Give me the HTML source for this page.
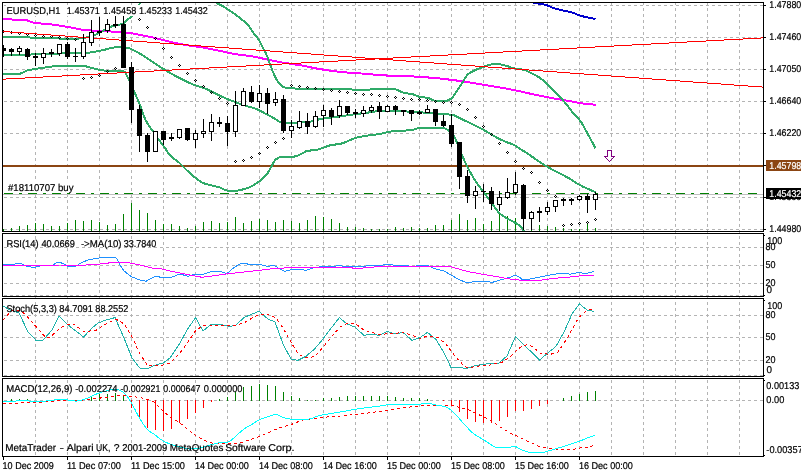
<!DOCTYPE html>
<html><head><meta charset="utf-8"><title>EURUSD,H1</title>
<style>html,body{margin:0;padding:0;background:#fff}svg text{white-space:pre}</style></head>
<body>
<svg width="801" height="473" viewBox="0 0 801 473" style="display:block">
<defs>
<clipPath id="cm"><rect x="3" y="3" width="760" height="228"/></clipPath>
<clipPath id="cr"><rect x="3" y="234" width="760" height="62"/></clipPath>
<clipPath id="cs"><rect x="3" y="299" width="760" height="77"/></clipPath>
<clipPath id="cd"><rect x="3" y="379" width="760" height="77"/></clipPath>
</defs>
<rect width="801" height="473" fill="#fff"/>
<g shape-rendering="crispEdges" stroke="#b4b4b4" stroke-width="1" stroke-dasharray="3 3" fill="none">
<line x1="35.5" y1="2" x2="35.5" y2="456"/>
<line x1="67.5" y1="2" x2="67.5" y2="456"/>
<line x1="99.5" y1="2" x2="99.5" y2="456"/>
<line x1="131.5" y1="2" x2="131.5" y2="456"/>
<line x1="163.5" y1="2" x2="163.5" y2="456"/>
<line x1="195.5" y1="2" x2="195.5" y2="456"/>
<line x1="227.5" y1="2" x2="227.5" y2="456"/>
<line x1="259.5" y1="2" x2="259.5" y2="456"/>
<line x1="291.5" y1="2" x2="291.5" y2="456"/>
<line x1="323.5" y1="2" x2="323.5" y2="456"/>
<line x1="355.5" y1="2" x2="355.5" y2="456"/>
<line x1="387.5" y1="2" x2="387.5" y2="456"/>
<line x1="419.5" y1="2" x2="419.5" y2="456"/>
<line x1="451.5" y1="2" x2="451.5" y2="456"/>
<line x1="483.5" y1="2" x2="483.5" y2="456"/>
<line x1="515.5" y1="2" x2="515.5" y2="456"/>
<line x1="547.5" y1="2" x2="547.5" y2="456"/>
<line x1="579.5" y1="2" x2="579.5" y2="456"/>
<line x1="611.5" y1="2" x2="611.5" y2="456"/>
<line x1="643.5" y1="2" x2="643.5" y2="456"/>
<line x1="675.5" y1="2" x2="675.5" y2="456"/>
<line x1="707.5" y1="2" x2="707.5" y2="456"/>
<line x1="739.5" y1="2" x2="739.5" y2="456"/>
<line x1="4" y1="5.5" x2="763" y2="5.5"/>
<line x1="4" y1="37.5" x2="763" y2="37.5"/>
<line x1="4" y1="69.5" x2="763" y2="69.5"/>
<line x1="4" y1="101.5" x2="763" y2="101.5"/>
<line x1="4" y1="133.5" x2="763" y2="133.5"/>
<line x1="4" y1="165.5" x2="763" y2="165.5"/>
<line x1="4" y1="197.5" x2="763" y2="197.5"/>
<line x1="4" y1="229.5" x2="763" y2="229.5"/>
<line x1="4" y1="247.5" x2="763" y2="247.5"/>
<line x1="4" y1="265.5" x2="763" y2="265.5"/>
<line x1="4" y1="283.5" x2="763" y2="283.5"/>
<line x1="4" y1="295.5" x2="763" y2="295.5"/>
<line x1="4" y1="315.5" x2="763" y2="315.5"/>
<line x1="4" y1="337.5" x2="763" y2="337.5"/>
<line x1="4" y1="360.5" x2="763" y2="360.5"/>
<line x1="4" y1="375.5" x2="763" y2="375.5"/>
<line x1="4" y1="400.5" x2="763" y2="400.5"/>
</g>
<g clip-path="url(#cm)">
<g shape-rendering="crispEdges" fill="#008000">
<rect x="3" y="229" width="1" height="2"/>
<rect x="11" y="228" width="1" height="3"/>
<rect x="19" y="226" width="1" height="5"/>
<rect x="27" y="225" width="1" height="6"/>
<rect x="35" y="223" width="1" height="8"/>
<rect x="43" y="224" width="1" height="7"/>
<rect x="51" y="226" width="1" height="5"/>
<rect x="59" y="226" width="1" height="5"/>
<rect x="67" y="223" width="1" height="8"/>
<rect x="75" y="220" width="1" height="11"/>
<rect x="83" y="221" width="1" height="10"/>
<rect x="91" y="220" width="1" height="11"/>
<rect x="99" y="222" width="1" height="9"/>
<rect x="107" y="225" width="1" height="6"/>
<rect x="115" y="224" width="1" height="7"/>
<rect x="123" y="214" width="1" height="17"/>
<rect x="131" y="203" width="1" height="28"/>
<rect x="139" y="210" width="1" height="21"/>
<rect x="147" y="213" width="1" height="18"/>
<rect x="155" y="220" width="1" height="11"/>
<rect x="163" y="224" width="1" height="7"/>
<rect x="171" y="224" width="1" height="7"/>
<rect x="179" y="226" width="1" height="5"/>
<rect x="187" y="228" width="1" height="3"/>
<rect x="195" y="226" width="1" height="5"/>
<rect x="203" y="222" width="1" height="9"/>
<rect x="211" y="221" width="1" height="10"/>
<rect x="219" y="223" width="1" height="8"/>
<rect x="227" y="222" width="1" height="9"/>
<rect x="235" y="217" width="1" height="14"/>
<rect x="243" y="223" width="1" height="8"/>
<rect x="251" y="221" width="1" height="10"/>
<rect x="259" y="219" width="1" height="12"/>
<rect x="267" y="220" width="1" height="11"/>
<rect x="275" y="222" width="1" height="9"/>
<rect x="283" y="220" width="1" height="11"/>
<rect x="291" y="221" width="1" height="10"/>
<rect x="299" y="223" width="1" height="8"/>
<rect x="307" y="220" width="1" height="11"/>
<rect x="315" y="216" width="1" height="15"/>
<rect x="323" y="217" width="1" height="14"/>
<rect x="331" y="219" width="1" height="12"/>
<rect x="339" y="223" width="1" height="8"/>
<rect x="347" y="227" width="1" height="4"/>
<rect x="355" y="227" width="1" height="4"/>
<rect x="363" y="228" width="1" height="3"/>
<rect x="371" y="229" width="1" height="2"/>
<rect x="379" y="229" width="1" height="2"/>
<rect x="387" y="229" width="1" height="2"/>
<rect x="395" y="227" width="1" height="4"/>
<rect x="403" y="228" width="1" height="3"/>
<rect x="411" y="227" width="1" height="4"/>
<rect x="419" y="228" width="1" height="3"/>
<rect x="427" y="228" width="1" height="3"/>
<rect x="435" y="225" width="1" height="6"/>
<rect x="443" y="225" width="1" height="6"/>
<rect x="451" y="220" width="1" height="11"/>
<rect x="459" y="214" width="1" height="17"/>
<rect x="467" y="220" width="1" height="11"/>
<rect x="475" y="218" width="1" height="13"/>
<rect x="483" y="224" width="1" height="7"/>
<rect x="491" y="221" width="1" height="10"/>
<rect x="499" y="214" width="1" height="17"/>
<rect x="507" y="216" width="1" height="15"/>
<rect x="515" y="218" width="1" height="13"/>
<rect x="523" y="225" width="1" height="6"/>
<rect x="531" y="226" width="1" height="5"/>
<rect x="539" y="225" width="1" height="6"/>
<rect x="547" y="226" width="1" height="5"/>
<rect x="555" y="227" width="1" height="4"/>
<rect x="563" y="228" width="1" height="3"/>
<rect x="571" y="229" width="1" height="2"/>
<rect x="579" y="229" width="1" height="2"/>
<rect x="587" y="223" width="1" height="8"/>
<rect x="595" y="228" width="1" height="3"/>
</g>
<g shape-rendering="crispEdges">
<rect x="3" y="194" width="760" height="1" fill="#c0c0c0" shape-rendering="crispEdges"/>
<line x1="4" y1="193.5" x2="763" y2="193.5" stroke="#008000" stroke-width="1" stroke-dasharray="9 6 3 6" shape-rendering="crispEdges"/>
<rect x="3" y="165" width="760" height="2" fill="#8b4513" shape-rendering="crispEdges"/>
<polyline points="3.0,19.0 5.0,19.0 7.0,19.0 9.0,19.0 11.0,19.0 13.0,20.1 15.0,20.1 17.0,20.1 19.0,20.2 21.0,20.2 23.0,20.2 25.0,20.2 27.0,20.3 29.0,21.0 31.0,21.8 33.0,22.5 35.0,22.8 37.0,23.1 39.0,23.3 41.0,23.5 43.0,23.6 45.0,23.8 47.1,24.0 49.1,24.2 51.1,24.4 53.1,24.7 55.1,25.0 57.1,25.3 59.1,25.5 61.1,25.9 63.1,26.2 65.1,26.5 67.1,26.8 69.1,27.2 71.1,27.6 73.1,28.0 75.1,28.4 77.1,28.8 79.1,29.2 81.1,29.5 83.1,29.7 85.1,29.9 87.1,30.1 89.1,30.3 91.1,30.4 93.1,30.6 95.1,30.7 97.1,30.8 99.1,30.9 101.1,31.1 103.1,31.2 105.1,31.3 107.1,31.3 109.1,31.4 111.1,31.5 113.1,31.6 115.1,31.7 117.1,31.8 119.1,31.9 121.1,32.1 123.1,32.2 125.1,32.4 127.1,32.7 129.1,32.9 131.2,33.3 133.2,33.6 135.2,34.0 137.2,34.4 139.2,34.7 141.2,35.1 143.2,35.5 145.2,35.9 147.2,36.3 149.2,36.7 151.2,37.1 153.2,37.5 155.2,38.0 157.2,38.5 159.2,39.0 161.2,39.5 163.2,40.1 165.2,40.6 167.2,41.1 169.2,41.6 171.2,42.1 173.2,42.5 175.2,42.9 177.2,43.3 179.2,43.8 181.2,44.1 183.2,44.5 185.2,44.9 187.2,45.2 189.2,45.6 191.2,45.9 193.2,46.2 195.2,46.4 197.2,46.7 199.2,47.0 201.2,47.3 203.2,47.6 205.2,48.0 207.2,48.4 209.2,48.7 211.2,49.1 213.2,49.5 215.3,49.9 217.3,50.4 219.3,50.8 221.3,51.2 223.3,51.6 225.3,52.0 227.3,52.5 229.3,52.9 231.3,53.3 233.3,53.8 235.3,54.1 237.3,54.4 239.3,54.7 241.3,55.0 243.3,55.2 245.3,55.4 247.3,55.6 249.3,55.9 251.3,56.2 253.3,56.6 255.3,57.0 257.3,57.4 259.3,57.8 261.3,58.2 263.3,58.7 265.3,59.1 267.3,59.5 269.3,59.9 271.3,60.3 273.3,60.7 275.3,61.2 277.3,61.6 279.3,61.9 281.3,62.3 283.3,62.7 285.3,63.0 287.3,63.3 289.3,63.6 291.3,63.9 293.3,64.2 295.3,64.5 297.3,64.8 299.4,65.1 301.4,65.4 303.4,65.8 305.4,66.2 307.4,66.7 309.4,67.1 311.4,67.5 313.4,67.9 315.4,68.3 317.4,68.7 319.4,69.0 321.4,69.3 323.4,69.7 325.4,70.0 327.4,70.3 329.4,70.6 331.4,70.8 333.4,71.1 335.4,71.3 337.4,71.5 339.4,71.8 341.4,72.0 343.4,72.2 345.4,72.4 347.4,72.5 349.4,72.7 351.4,72.9 353.4,73.0 355.4,73.2 357.4,73.3 359.4,73.4 361.4,73.5 363.4,73.6 365.4,73.8 367.4,73.9 369.4,74.1 371.4,74.3 373.4,74.5 375.4,74.7 377.4,74.9 379.4,75.1 381.4,75.2 383.4,75.3 385.5,75.4 387.5,75.6 389.5,75.7 391.5,75.8 393.5,75.9 395.5,76.0 397.5,76.0 399.5,76.1 401.5,76.2 403.5,76.2 405.5,76.3 407.5,76.3 409.5,76.4 411.5,76.4 413.5,76.5 415.5,76.6 417.5,76.7 419.5,76.8 421.5,77.0 423.5,77.1 425.5,77.2 427.5,77.4 429.5,77.6 431.5,77.7 433.5,77.9 435.5,78.1 437.5,78.3 439.5,78.5 441.5,78.7 443.5,78.9 445.5,79.1 447.5,79.4 449.5,79.6 451.5,79.8 453.5,80.1 455.5,80.4 457.5,80.6 459.5,80.9 461.5,81.2 463.5,81.5 465.5,81.8 467.5,82.1 469.6,82.4 471.6,82.8 473.6,83.1 475.6,83.5 477.6,83.8 479.6,84.2 481.6,84.5 483.6,84.8 485.6,85.1 487.6,85.5 489.6,85.8 491.6,86.1 493.6,86.4 495.6,86.8 497.6,87.1 499.6,87.4 501.6,87.8 503.6,88.1 505.6,88.5 507.6,88.8 509.6,89.2 511.6,89.6 513.6,90.0 515.6,90.4 517.6,90.8 519.6,91.2 521.6,91.7 523.6,92.2 525.6,92.6 527.6,93.1 529.6,93.5 531.6,94.0 533.6,94.4 535.6,94.8 537.6,95.3 539.6,95.7 541.6,96.1 543.6,96.5 545.6,96.9 547.6,97.3 549.6,97.6 551.6,98.0 553.7,98.4 555.7,98.7 557.7,99.0 559.7,99.4 561.7,99.7 563.7,100.0 565.7,100.4 567.7,100.7 569.7,101.1 571.7,101.5 573.7,101.9 575.7,102.3 577.7,102.7 579.7,103.0 581.7,103.3 583.7,103.6 585.7,103.8 587.7,104.1 589.7,104.3 591.7,104.4 593.7,104.6 595.7,104.7" fill="none" stroke="#ff00ff" stroke-width="2" stroke-linejoin="round" />
<polyline points="525.0,-1.0 527.0,-0.0 529.0,0.9 531.0,1.7 533.1,2.4 535.1,3.0 537.1,3.4 539.1,3.7 541.1,4.0 543.1,4.3 545.1,4.7 547.2,5.4 549.2,6.2 551.2,7.1 553.2,7.9 555.2,8.5 557.2,9.1 559.2,9.6 561.3,10.0 563.3,10.5 565.3,10.9 567.3,11.3 569.3,11.7 571.3,12.2 573.3,12.8 575.4,13.6 577.4,14.6 579.4,15.4 581.4,16.0 583.4,16.5 585.4,17.0 587.4,17.4 589.5,17.9 591.5,18.3 593.5,18.6 595.5,19.0" fill="none" stroke="#0000cd" stroke-width="2" stroke-linejoin="round" />
<polyline points="3.0,36.8 5.0,36.8 7.0,36.8 9.0,36.8 11.0,36.8 13.0,36.8 15.0,36.8 17.0,36.8 19.0,36.8 21.0,36.8 23.0,36.9 25.0,36.9 27.0,36.9 29.0,37.1 31.0,37.8 33.0,37.8 35.0,37.9 37.0,37.9 39.0,37.9 41.0,37.9 43.0,37.9 45.0,37.9 47.0,37.9 49.0,37.9 51.0,37.9 53.0,38.0 55.0,38.0 57.0,38.1 59.0,38.5 61.0,38.9 63.0,39.0 65.0,39.0 67.0,39.1 69.0,39.1 71.0,39.1 73.0,39.1 75.0,39.1 77.0,39.1 79.1,38.5 81.1,38.0 83.1,37.8 85.1,37.6 87.1,37.4 89.1,37.0 91.1,36.5 93.1,35.8 95.1,34.9 97.1,34.0 99.1,33.1 101.1,32.0 103.1,30.8 105.1,29.5 107.1,28.4 109.1,27.5 111.1,26.7 113.1,26.0 115.1,25.5 117.1,25.0 119.1,24.7 121.1,24.4 123.1,24.0 125.1,22.2 127.1,19.9 129.1,18.4 131.1,16.9 133.1,14.6 135.1,11.5 137.1,8.2 139.1,4.6 141.1,1.0 143.1,-2.9 145.1,-6.6 147.1,-9.7 149.1,-12.7 151.1,-15.6 153.1,-18.3 155.1,-20.7 157.1,-22.8 159.1,-24.4 161.1,-25.6 163.1,-26.7 165.1,-27.7 167.1,-28.7 169.1,-29.6 171.1,-30.3 173.1,-31.0 175.1,-31.5 177.1,-31.8 179.1,-32.0 181.1,-32.0 183.1,-31.7 185.1,-31.1 187.1,-30.3 189.1,-29.4 191.1,-28.2 193.1,-26.9 195.1,-25.6 197.1,-24.1 199.1,-22.6 201.1,-21.1 203.1,-19.0 205.1,-16.6 207.1,-13.8 209.1,-10.8 211.1,-7.8 213.1,-3.8 215.1,0.4 217.1,3.1 219.1,4.3 221.1,5.2 223.1,6.3 225.1,7.5 227.2,8.9 229.2,10.2 231.2,11.6 233.2,13.0 235.2,14.5 237.2,16.0 239.2,17.5 241.2,19.0 243.2,20.6 245.2,22.3 247.2,24.3 249.2,26.5 251.2,29.3 253.2,32.6 255.2,35.2 257.2,37.6 259.2,40.6 261.2,44.4 263.2,48.2 265.2,52.0 267.2,56.3 269.2,61.8 271.2,67.4 273.2,72.6 275.2,77.0 277.2,80.5 279.2,83.4 281.2,85.6 283.2,87.1 285.2,87.5 287.2,87.8 289.2,88.0 291.2,88.1 293.2,88.3 295.2,88.5 297.2,88.7 299.2,88.9 301.2,89.0 303.2,89.1 305.2,89.1 307.2,89.1 309.2,89.1 311.2,89.1 313.2,89.1 315.2,89.1 317.2,89.1 319.2,89.1 321.2,89.1 323.2,89.1 325.2,89.1 327.2,89.1 329.2,89.1 331.2,89.1 333.2,89.1 335.2,89.1 337.2,89.1 339.2,89.1 341.2,89.1 343.2,89.2 345.2,89.2 347.2,89.2 349.2,89.3 351.2,89.4 353.2,89.7 355.2,90.0 357.2,90.0 359.2,90.0 361.2,90.0 363.2,90.0 365.2,90.0 367.2,90.0 369.2,89.7 371.2,89.3 373.2,89.0 375.3,88.7 377.3,88.7 379.3,88.7 381.3,88.7 383.3,88.7 385.3,88.7 387.3,88.8 389.3,88.9 391.3,89.0 393.3,89.2 395.3,89.4 397.3,90.0 399.3,90.9 401.3,91.8 403.3,92.6 405.3,93.0 407.3,93.4 409.3,93.7 411.3,94.0 413.3,94.4 415.3,95.1 417.3,96.1 419.3,96.8 421.3,97.2 423.3,97.3 425.3,97.5 427.3,97.7 429.3,98.3 431.3,99.3 433.3,100.4 435.3,100.8 437.3,101.0 439.3,101.1 441.3,101.1 443.3,101.2 445.3,101.2 447.3,100.7 449.3,99.7 451.3,98.5 453.3,96.3 455.3,93.4 457.3,90.3 459.3,87.4 461.3,84.4 463.3,81.3 465.3,77.6 467.3,74.8 469.3,73.3 471.3,72.1 473.3,71.1 475.3,70.1 477.3,69.2 479.3,68.4 481.3,67.6 483.3,66.9 485.3,66.2 487.3,65.5 489.3,64.9 491.3,64.4 493.3,64.1 495.3,64.0 497.3,63.9 499.3,64.1 501.3,64.5 503.3,65.0 505.3,65.5 507.3,66.1 509.3,66.8 511.3,67.5 513.3,68.1 515.3,68.5 517.3,68.8 519.3,69.1 521.4,69.4 523.4,69.8 525.4,70.3 527.4,71.1 529.4,72.2 531.4,73.3 533.4,74.3 535.4,75.2 537.4,76.3 539.4,77.6 541.4,79.1 543.4,80.7 545.4,82.5 547.4,84.4 549.4,86.2 551.4,88.1 553.4,90.0 555.4,92.0 557.4,94.0 559.4,96.2 561.4,98.4 563.4,100.8 565.4,103.2 567.4,105.7 569.4,108.2 571.4,110.9 573.4,113.3 575.4,115.5 577.4,117.6 579.4,119.7 581.4,122.5 583.4,125.9 585.4,129.6 587.4,133.3 589.4,136.9 591.4,140.6 593.4,144.4 595.4,148.2" fill="none" stroke="#2faa68" stroke-width="2" stroke-linejoin="round" />
<polyline points="3.0,54.9 5.0,54.9 7.0,54.9 9.0,54.8 11.0,54.8 13.0,54.8 15.0,54.8 17.0,54.7 19.0,54.7 21.0,54.7 23.0,54.6 25.0,54.6 27.0,54.5 29.0,54.5 31.0,54.5 33.0,54.4 35.0,54.4 37.0,54.3 39.0,54.2 41.0,54.2 43.0,54.1 45.0,54.0 47.0,54.0 49.0,53.9 51.0,53.8 53.0,53.7 55.0,53.6 57.0,53.5 59.0,53.5 61.0,53.4 63.0,53.3 65.0,53.3 67.0,53.2 69.0,53.1 71.0,53.1 73.0,53.1 75.0,53.0 77.0,53.0 79.0,53.0 81.0,52.9 83.0,52.9 85.0,52.8 87.0,52.7 89.0,52.6 91.0,52.3 93.0,52.0 95.0,51.6 97.0,51.3 99.0,51.0 101.0,50.6 103.1,50.1 105.1,49.6 107.1,49.1 109.1,48.5 111.1,48.0 113.1,47.7 115.1,47.4 117.1,47.3 119.1,47.3 121.1,47.4 123.1,47.5 125.1,47.6 127.1,47.7 129.1,48.2 131.1,49.0 133.1,50.0 135.1,51.1 137.1,52.1 139.1,53.2 141.1,54.3 143.1,55.6 145.1,56.9 147.1,58.2 149.1,59.5 151.1,60.9 153.1,62.3 155.1,63.6 157.1,65.0 159.1,66.3 161.1,67.6 163.1,68.8 165.1,70.0 167.1,71.2 169.1,72.4 171.1,73.5 173.1,74.6 175.1,75.7 177.1,76.7 179.1,77.8 181.1,78.9 183.1,79.9 185.1,80.9 187.1,81.8 189.1,82.8 191.1,83.6 193.1,84.5 195.1,85.2 197.1,85.9 199.1,86.5 201.1,87.1 203.1,87.7 205.1,88.5 207.1,89.4 209.1,90.4 211.1,91.4 213.1,92.3 215.1,93.4 217.1,94.4 219.1,95.4 221.1,96.3 223.1,97.2 225.1,98.0 227.1,98.9 229.1,99.7 231.1,100.5 233.1,101.2 235.1,102.0 237.1,102.7 239.1,103.5 241.1,104.2 243.1,105.0 245.1,105.6 247.1,106.2 249.1,106.7 251.1,107.3 253.1,107.9 255.1,108.6 257.1,109.4 259.1,110.4 261.1,111.4 263.1,112.4 265.1,113.5 267.1,114.5 269.1,115.6 271.1,116.6 273.1,117.7 275.1,118.8 277.1,120.1 279.1,121.5 281.1,122.4 283.1,122.6 285.1,122.6 287.1,122.7 289.1,122.7 291.1,122.7 293.1,122.7 295.1,122.7 297.1,122.6 299.1,122.5 301.2,122.5 303.2,122.3 305.2,122.2 307.2,122.0 309.2,121.8 311.2,121.4 313.2,120.9 315.2,120.3 317.2,119.8 319.2,119.3 321.2,118.9 323.2,118.6 325.2,118.3 327.2,118.0 329.2,117.8 331.2,117.5 333.2,117.3 335.2,117.0 337.2,116.7 339.2,116.4 341.2,116.2 343.2,115.9 345.2,115.6 347.2,115.3 349.2,115.1 351.2,114.8 353.2,114.5 355.2,114.3 357.2,114.0 359.2,113.7 361.2,113.4 363.2,113.2 365.2,112.9 367.2,112.7 369.2,112.4 371.2,112.1 373.2,111.8 375.2,111.5 377.2,111.3 379.2,111.0 381.2,110.9 383.2,110.8 385.2,110.8 387.2,110.8 389.2,110.8 391.2,110.8 393.2,110.9 395.2,110.9 397.2,110.9 399.2,111.0 401.2,111.1 403.2,111.2 405.2,111.3 407.2,111.5 409.2,111.6 411.2,111.8 413.2,111.9 415.2,112.0 417.2,112.1 419.2,112.2 421.2,112.3 423.2,112.5 425.2,112.6 427.2,112.7 429.2,112.8 431.2,113.0 433.2,113.1 435.2,113.3 437.2,113.5 439.2,113.6 441.2,113.8 443.2,114.0 445.2,114.1 447.2,114.3 449.2,114.5 451.2,114.7 453.2,115.0 455.2,115.7 457.2,116.8 459.2,117.9 461.2,118.9 463.2,119.9 465.2,120.8 467.2,121.7 469.2,122.6 471.2,123.6 473.2,124.5 475.2,125.5 477.2,126.5 479.2,127.5 481.2,128.5 483.2,129.6 485.2,130.8 487.2,131.9 489.2,133.1 491.2,134.2 493.2,135.5 495.2,136.7 497.3,137.8 499.3,138.9 501.3,139.8 503.3,140.7 505.3,141.6 507.3,142.4 509.3,143.1 511.3,143.8 513.3,144.6 515.3,145.7 517.3,147.1 519.3,148.5 521.3,149.7 523.3,150.9 525.3,152.1 527.3,153.4 529.3,154.8 531.3,156.2 533.3,157.5 535.3,158.9 537.3,160.3 539.3,161.7 541.3,163.1 543.3,164.4 545.3,165.7 547.3,166.8 549.3,167.9 551.3,169.0 553.3,170.1 555.3,171.1 557.3,172.2 559.3,173.2 561.3,174.2 563.3,175.2 565.3,176.3 567.3,177.3 569.3,178.4 571.3,179.6 573.3,180.9 575.3,182.3 577.3,183.6 579.3,184.7 581.3,185.8 583.3,186.8 585.3,187.7 587.3,188.6 589.3,189.5 591.3,190.4 593.3,191.3 595.3,192.1" fill="none" stroke="#2faa68" stroke-width="2" stroke-linejoin="round" />
<polyline points="3.0,74.3 5.0,74.3 7.0,74.3 9.0,74.3 11.0,74.2 13.0,74.2 15.0,74.1 17.0,74.1 19.0,73.9 21.0,73.4 23.0,72.5 25.0,71.4 27.0,70.5 29.0,70.0 31.1,69.6 33.1,69.3 35.1,69.0 37.1,68.7 39.1,68.4 41.1,68.1 43.1,67.8 45.1,67.5 47.1,67.2 49.1,66.9 51.1,66.7 53.1,66.4 55.1,66.2 57.1,66.0 59.1,65.8 61.1,65.7 63.1,65.6 65.1,65.6 67.1,65.6 69.1,65.6 71.1,65.6 73.1,65.6 75.1,65.6 77.1,65.6 79.1,65.6 81.1,65.6 83.2,65.7 85.2,66.1 87.2,66.7 89.2,67.4 91.2,67.9 93.2,68.4 95.2,68.8 97.2,69.3 99.2,69.7 101.2,70.0 103.2,70.4 105.2,70.7 107.2,70.9 109.2,71.0 111.2,71.0 113.2,71.0 115.2,71.0 117.2,70.9 119.2,70.9 121.2,70.9 123.2,70.9 125.2,72.5 127.2,76.2 129.2,80.0 131.2,84.6 133.2,89.5 135.3,94.2 137.3,98.7 139.3,103.4 141.3,108.7 143.3,114.7 145.3,119.5 147.3,123.2 149.3,126.2 151.3,129.1 153.3,131.9 155.3,134.8 157.3,137.6 159.3,140.3 161.3,143.0 163.3,145.7 165.3,148.4 167.3,151.5 169.3,154.5 171.3,156.5 173.3,158.1 175.3,159.6 177.3,161.1 179.3,162.8 181.3,164.8 183.3,166.8 185.3,168.8 187.3,170.7 189.4,172.6 191.4,174.4 193.4,176.2 195.4,177.7 197.4,179.3 199.4,180.8 201.4,182.1 203.4,183.1 205.4,183.8 207.4,184.4 209.4,184.9 211.4,185.4 213.4,186.0 215.4,186.4 217.4,186.9 219.4,187.4 221.4,188.1 223.4,189.3 225.4,190.3 227.4,190.6 229.4,190.6 231.4,190.6 233.4,190.6 235.4,190.6 237.4,190.6 239.4,190.3 241.5,189.9 243.5,189.2 245.5,188.6 247.5,188.0 249.5,187.2 251.5,186.3 253.5,185.2 255.5,183.9 257.5,182.6 259.5,181.1 261.5,179.5 263.5,177.8 265.5,175.8 267.5,173.3 269.5,170.0 271.5,166.3 273.5,162.3 275.5,159.7 277.5,158.3 279.5,157.3 281.5,156.8 283.5,156.7 285.5,156.7 287.5,156.7 289.5,156.6 291.5,156.6 293.6,156.6 295.6,156.4 297.6,155.8 299.6,154.7 301.6,153.7 303.6,152.6 305.6,151.5 307.6,150.9 309.6,150.6 311.6,150.4 313.6,150.2 315.6,150.0 317.6,149.7 319.6,149.1 321.6,148.3 323.6,147.6 325.6,146.8 327.6,146.1 329.6,145.5 331.6,145.1 333.6,144.7 335.6,144.5 337.6,144.2 339.6,143.9 341.6,143.5 343.6,142.9 345.7,142.0 347.7,141.1 349.7,140.3 351.7,139.4 353.7,138.6 355.7,137.9 357.7,137.4 359.7,136.9 361.7,136.5 363.7,136.1 365.7,135.8 367.7,135.5 369.7,135.2 371.7,135.0 373.7,134.8 375.7,134.6 377.7,134.3 379.7,134.0 381.7,133.7 383.7,133.1 385.7,132.6 387.7,132.1 389.7,131.7 391.7,131.4 393.7,131.1 395.7,131.0 397.7,130.9 399.8,130.8 401.8,130.8 403.8,130.6 405.8,130.5 407.8,130.3 409.8,130.1 411.8,129.9 413.8,129.6 415.8,129.0 417.8,128.3 419.8,127.8 421.8,127.7 423.8,127.7 425.8,127.6 427.8,127.6 429.8,127.5 431.8,127.5 433.8,127.5 435.8,127.5 437.8,127.5 439.8,127.5 441.8,127.6 443.8,127.9 445.8,128.7 447.8,129.9 449.8,131.4 451.9,133.4 453.9,136.1 455.9,139.9 457.9,145.0 459.9,150.1 461.9,155.0 463.9,159.6 465.9,163.8 467.9,167.8 469.9,171.5 471.9,175.1 473.9,178.5 475.9,181.6 477.9,184.4 479.9,187.1 481.9,189.7 483.9,192.4 485.9,195.1 487.9,197.9 489.9,200.7 491.9,203.4 493.9,206.1 495.9,208.9 497.9,211.5 499.9,213.5 501.9,215.2 504.0,216.6 506.0,217.9 508.0,219.0 510.0,220.1 512.0,221.1 514.0,222.1 516.0,223.2 518.0,224.5 520.0,226.0 522.0,228.2 524.0,231.4 526.0,234.4 528.0,237.3 530.0,240.0" fill="none" stroke="#2faa68" stroke-width="2" stroke-linejoin="round" />
</g>
<g shape-rendering="crispEdges" fill="#000">
<path d="M3 30h1v1h1v1h-1v1h-1v-1h-1v-1h1z M3 31v1h1v-1z" fill-rule="evenodd"/>
<path d="M11 31h1v1h1v1h-1v1h-1v-1h-1v-1h1z M11 32v1h1v-1z" fill-rule="evenodd"/>
<path d="M19 32h1v1h1v1h-1v1h-1v-1h-1v-1h1z M19 33v1h1v-1z" fill-rule="evenodd"/>
<path d="M27 33h1v1h1v1h-1v1h-1v-1h-1v-1h1z M27 34v1h1v-1z" fill-rule="evenodd"/>
<path d="M35 34h1v1h1v1h-1v1h-1v-1h-1v-1h1z M35 35v1h1v-1z" fill-rule="evenodd"/>
<path d="M43 35h1v1h1v1h-1v1h-1v-1h-1v-1h1z M43 36v1h1v-1z" fill-rule="evenodd"/>
<path d="M51 35h1v1h1v1h-1v1h-1v-1h-1v-1h1z M51 36v1h1v-1z" fill-rule="evenodd"/>
<path d="M59 36h1v1h1v1h-1v1h-1v-1h-1v-1h1z M59 37v1h1v-1z" fill-rule="evenodd"/>
<path d="M67 37h1v1h1v1h-1v1h-1v-1h-1v-1h1z M67 38v1h1v-1z" fill-rule="evenodd"/>
<path d="M75 38h1v1h1v1h-1v1h-1v-1h-1v-1h1z M75 39v1h1v-1z" fill-rule="evenodd"/>
<path d="M83 77h1v1h1v1h-1v1h-1v-1h-1v-1h1z M83 78v1h1v-1z" fill-rule="evenodd"/>
<path d="M91 76h1v1h1v1h-1v1h-1v-1h-1v-1h1z M91 77v1h1v-1z" fill-rule="evenodd"/>
<path d="M99 74h1v1h1v1h-1v1h-1v-1h-1v-1h1z M99 75v1h1v-1z" fill-rule="evenodd"/>
<path d="M107 70h1v1h1v1h-1v1h-1v-1h-1v-1h1z M107 71v1h1v-1z" fill-rule="evenodd"/>
<path d="M115 67h1v1h1v1h-1v1h-1v-1h-1v-1h1z M115 68v1h1v-1z" fill-rule="evenodd"/>
<path d="M139 18h1v1h1v1h-1v1h-1v-1h-1v-1h1z M139 19v1h1v-1z" fill-rule="evenodd"/>
<path d="M147 26h1v1h1v1h-1v1h-1v-1h-1v-1h1z M147 27v1h1v-1z" fill-rule="evenodd"/>
<path d="M155 37h1v1h1v1h-1v1h-1v-1h-1v-1h1z M155 38v1h1v-1z" fill-rule="evenodd"/>
<path d="M163 47h1v1h1v1h-1v1h-1v-1h-1v-1h1z M163 48v1h1v-1z" fill-rule="evenodd"/>
<path d="M171 56h1v1h1v1h-1v1h-1v-1h-1v-1h1z M171 57v1h1v-1z" fill-rule="evenodd"/>
<path d="M179 64h1v1h1v1h-1v1h-1v-1h-1v-1h1z M179 65v1h1v-1z" fill-rule="evenodd"/>
<path d="M187 72h1v1h1v1h-1v1h-1v-1h-1v-1h1z M187 73v1h1v-1z" fill-rule="evenodd"/>
<path d="M195 79h1v1h1v1h-1v1h-1v-1h-1v-1h1z M195 80v1h1v-1z" fill-rule="evenodd"/>
<path d="M203 85h1v1h1v1h-1v1h-1v-1h-1v-1h1z M203 86v1h1v-1z" fill-rule="evenodd"/>
<path d="M211 91h1v1h1v1h-1v1h-1v-1h-1v-1h1z M211 92v1h1v-1z" fill-rule="evenodd"/>
<path d="M219 97h1v1h1v1h-1v1h-1v-1h-1v-1h1z M219 98v1h1v-1z" fill-rule="evenodd"/>
<path d="M227 102h1v1h1v1h-1v1h-1v-1h-1v-1h1z M227 103v1h1v-1z" fill-rule="evenodd"/>
<path d="M235 160h1v1h1v1h-1v1h-1v-1h-1v-1h1z M235 161v1h1v-1z" fill-rule="evenodd"/>
<path d="M243 159h1v1h1v1h-1v1h-1v-1h-1v-1h1z M243 160v1h1v-1z" fill-rule="evenodd"/>
<path d="M251 156h1v1h1v1h-1v1h-1v-1h-1v-1h1z M251 157v1h1v-1z" fill-rule="evenodd"/>
<path d="M259 152h1v1h1v1h-1v1h-1v-1h-1v-1h1z M259 153v1h1v-1z" fill-rule="evenodd"/>
<path d="M267 146h1v1h1v1h-1v1h-1v-1h-1v-1h1z M267 147v1h1v-1z" fill-rule="evenodd"/>
<path d="M275 141h1v1h1v1h-1v1h-1v-1h-1v-1h1z M275 142v1h1v-1z" fill-rule="evenodd"/>
<path d="M283 137h1v1h1v1h-1v1h-1v-1h-1v-1h1z M283 138v1h1v-1z" fill-rule="evenodd"/>
<path d="M291 84h1v1h1v1h-1v1h-1v-1h-1v-1h1z M291 85v1h1v-1z" fill-rule="evenodd"/>
<path d="M299 85h1v1h1v1h-1v1h-1v-1h-1v-1h1z M299 86v1h1v-1z" fill-rule="evenodd"/>
<path d="M307 86h1v1h1v1h-1v1h-1v-1h-1v-1h1z M307 87v1h1v-1z" fill-rule="evenodd"/>
<path d="M315 87h1v1h1v1h-1v1h-1v-1h-1v-1h1z M315 88v1h1v-1z" fill-rule="evenodd"/>
<path d="M323 88h1v1h1v1h-1v1h-1v-1h-1v-1h1z M323 89v1h1v-1z" fill-rule="evenodd"/>
<path d="M331 89h1v1h1v1h-1v1h-1v-1h-1v-1h1z M331 90v1h1v-1z" fill-rule="evenodd"/>
<path d="M339 90h1v1h1v1h-1v1h-1v-1h-1v-1h1z M339 91v1h1v-1z" fill-rule="evenodd"/>
<path d="M347 91h1v1h1v1h-1v1h-1v-1h-1v-1h1z M347 92v1h1v-1z" fill-rule="evenodd"/>
<path d="M355 92h1v1h1v1h-1v1h-1v-1h-1v-1h1z M355 93v1h1v-1z" fill-rule="evenodd"/>
<path d="M363 93h1v1h1v1h-1v1h-1v-1h-1v-1h1z M363 94v1h1v-1z" fill-rule="evenodd"/>
<path d="M371 93h1v1h1v1h-1v1h-1v-1h-1v-1h1z M371 94v1h1v-1z" fill-rule="evenodd"/>
<path d="M379 94h1v1h1v1h-1v1h-1v-1h-1v-1h1z M379 95v1h1v-1z" fill-rule="evenodd"/>
<path d="M387 95h1v1h1v1h-1v1h-1v-1h-1v-1h1z M387 96v1h1v-1z" fill-rule="evenodd"/>
<path d="M395 96h1v1h1v1h-1v1h-1v-1h-1v-1h1z M395 97v1h1v-1z" fill-rule="evenodd"/>
<path d="M403 97h1v1h1v1h-1v1h-1v-1h-1v-1h1z M403 98v1h1v-1z" fill-rule="evenodd"/>
<path d="M411 98h1v1h1v1h-1v1h-1v-1h-1v-1h1z M411 99v1h1v-1z" fill-rule="evenodd"/>
<path d="M419 98h1v1h1v1h-1v1h-1v-1h-1v-1h1z M419 99v1h1v-1z" fill-rule="evenodd"/>
<path d="M427 99h1v1h1v1h-1v1h-1v-1h-1v-1h1z M427 100v1h1v-1z" fill-rule="evenodd"/>
<path d="M435 100h1v1h1v1h-1v1h-1v-1h-1v-1h1z M435 101v1h1v-1z" fill-rule="evenodd"/>
<path d="M443 101h1v1h1v1h-1v1h-1v-1h-1v-1h1z M443 102v1h1v-1z" fill-rule="evenodd"/>
<path d="M451 101h1v1h1v1h-1v1h-1v-1h-1v-1h1z M451 102v1h1v-1z" fill-rule="evenodd"/>
<path d="M459 103h1v1h1v1h-1v1h-1v-1h-1v-1h1z M459 104v1h1v-1z" fill-rule="evenodd"/>
<path d="M467 108h1v1h1v1h-1v1h-1v-1h-1v-1h1z M467 109v1h1v-1z" fill-rule="evenodd"/>
<path d="M475 116h1v1h1v1h-1v1h-1v-1h-1v-1h1z M475 117v1h1v-1z" fill-rule="evenodd"/>
<path d="M483 125h1v1h1v1h-1v1h-1v-1h-1v-1h1z M483 126v1h1v-1z" fill-rule="evenodd"/>
<path d="M491 133h1v1h1v1h-1v1h-1v-1h-1v-1h1z M491 134v1h1v-1z" fill-rule="evenodd"/>
<path d="M499 142h1v1h1v1h-1v1h-1v-1h-1v-1h1z M499 143v1h1v-1z" fill-rule="evenodd"/>
<path d="M507 151h1v1h1v1h-1v1h-1v-1h-1v-1h1z M507 152v1h1v-1z" fill-rule="evenodd"/>
<path d="M515 160h1v1h1v1h-1v1h-1v-1h-1v-1h1z M515 161v1h1v-1z" fill-rule="evenodd"/>
<path d="M523 167h1v1h1v1h-1v1h-1v-1h-1v-1h1z M523 168v1h1v-1z" fill-rule="evenodd"/>
<path d="M531 171h1v1h1v1h-1v1h-1v-1h-1v-1h1z M531 172v1h1v-1z" fill-rule="evenodd"/>
<path d="M539 181h1v1h1v1h-1v1h-1v-1h-1v-1h1z M539 182v1h1v-1z" fill-rule="evenodd"/>
<path d="M547 189h1v1h1v1h-1v1h-1v-1h-1v-1h1z M547 190v1h1v-1z" fill-rule="evenodd"/>
<path d="M555 195h1v1h1v1h-1v1h-1v-1h-1v-1h1z M555 196v1h1v-1z" fill-rule="evenodd"/>
<path d="M563 224h1v1h1v1h-1v1h-1v-1h-1v-1h1z M563 225v1h1v-1z" fill-rule="evenodd"/>
<path d="M571 223h1v1h1v1h-1v1h-1v-1h-1v-1h1z M571 224v1h1v-1z" fill-rule="evenodd"/>
<path d="M579 222h1v1h1v1h-1v1h-1v-1h-1v-1h1z M579 223v1h1v-1z" fill-rule="evenodd"/>
<path d="M587 221h1v1h1v1h-1v1h-1v-1h-1v-1h1z M587 222v1h1v-1z" fill-rule="evenodd"/>
<path d="M595 218h1v1h1v1h-1v1h-1v-1h-1v-1h1z M595 219v1h1v-1z" fill-rule="evenodd"/>
</g>
<g shape-rendering="crispEdges">
<line x1="3" y1="31.5" x2="763" y2="87.1" stroke="#ff0000" stroke-width="1"/>
<line x1="3" y1="79.2" x2="763" y2="37.9" stroke="#ff0000" stroke-width="1"/>
</g>
<g shape-rendering="crispEdges">
<rect x="3" y="45" width="1" height="12" fill="#000"/>
<rect x="1" y="48" width="5" height="3" fill="#000"/>
<rect x="11" y="48" width="1" height="8" fill="#000"/>
<rect x="9" y="49" width="5" height="3" fill="#000"/>
<rect x="19" y="46" width="1" height="9" fill="#000"/>
<rect x="17" y="48" width="5" height="4" fill="#000"/>
<rect x="18" y="49" width="3" height="2" fill="#fff"/>
<rect x="27" y="48" width="1" height="12" fill="#000"/>
<rect x="25" y="49" width="5" height="8" fill="#000"/>
<rect x="35" y="53" width="1" height="13" fill="#000"/>
<rect x="33" y="56" width="5" height="2" fill="#000"/>
<rect x="43" y="48" width="1" height="16" fill="#000"/>
<rect x="41" y="53" width="5" height="5" fill="#000"/>
<rect x="42" y="54" width="3" height="3" fill="#fff"/>
<rect x="51" y="49" width="1" height="8" fill="#000"/>
<rect x="49" y="52" width="5" height="2" fill="#000"/>
<rect x="59" y="44" width="1" height="12" fill="#000"/>
<rect x="57" y="44" width="5" height="10" fill="#000"/>
<rect x="58" y="45" width="3" height="8" fill="#fff"/>
<rect x="67" y="42" width="1" height="17" fill="#000"/>
<rect x="65" y="44" width="5" height="13" fill="#000"/>
<rect x="75" y="48" width="1" height="14" fill="#000"/>
<rect x="73" y="56" width="5" height="1" fill="#000"/>
<rect x="83" y="34" width="1" height="25" fill="#000"/>
<rect x="81" y="42" width="5" height="15" fill="#000"/>
<rect x="82" y="43" width="3" height="13" fill="#fff"/>
<rect x="91" y="20" width="1" height="26" fill="#000"/>
<rect x="89" y="32" width="5" height="11" fill="#000"/>
<rect x="90" y="33" width="3" height="9" fill="#fff"/>
<rect x="99" y="17" width="1" height="19" fill="#000"/>
<rect x="97" y="31" width="5" height="2" fill="#000"/>
<rect x="107" y="19" width="1" height="14" fill="#000"/>
<rect x="105" y="24" width="5" height="7" fill="#000"/>
<rect x="106" y="25" width="3" height="5" fill="#fff"/>
<rect x="115" y="16" width="1" height="12" fill="#000"/>
<rect x="113" y="24" width="5" height="2" fill="#000"/>
<rect x="123" y="16" width="1" height="52" fill="#000"/>
<rect x="121" y="24" width="5" height="44" fill="#000"/>
<rect x="131" y="62" width="1" height="61" fill="#000"/>
<rect x="129" y="67" width="5" height="43" fill="#000"/>
<rect x="139" y="105" width="1" height="47" fill="#000"/>
<rect x="137" y="109" width="5" height="27" fill="#000"/>
<rect x="147" y="133" width="1" height="29" fill="#000"/>
<rect x="145" y="135" width="5" height="17" fill="#000"/>
<rect x="155" y="131" width="1" height="21" fill="#000"/>
<rect x="153" y="131" width="5" height="21" fill="#000"/>
<rect x="154" y="132" width="3" height="19" fill="#fff"/>
<rect x="163" y="131" width="1" height="14" fill="#000"/>
<rect x="161" y="131" width="5" height="9" fill="#000"/>
<rect x="171" y="133" width="1" height="8" fill="#000"/>
<rect x="169" y="137" width="5" height="2" fill="#000"/>
<rect x="179" y="129" width="1" height="10" fill="#000"/>
<rect x="177" y="129" width="5" height="9" fill="#000"/>
<rect x="178" y="130" width="3" height="7" fill="#fff"/>
<rect x="187" y="128" width="1" height="13" fill="#000"/>
<rect x="185" y="128" width="5" height="12" fill="#000"/>
<rect x="195" y="130" width="1" height="18" fill="#000"/>
<rect x="193" y="133" width="5" height="7" fill="#000"/>
<rect x="194" y="134" width="3" height="5" fill="#fff"/>
<rect x="203" y="119" width="1" height="19" fill="#000"/>
<rect x="201" y="131" width="5" height="3" fill="#000"/>
<rect x="202" y="132" width="3" height="1" fill="#fff"/>
<rect x="211" y="114" width="1" height="27" fill="#000"/>
<rect x="209" y="122" width="5" height="10" fill="#000"/>
<rect x="210" y="123" width="3" height="8" fill="#fff"/>
<rect x="219" y="117" width="1" height="10" fill="#000"/>
<rect x="217" y="122" width="5" height="2" fill="#000"/>
<rect x="227" y="116" width="1" height="30" fill="#000"/>
<rect x="225" y="123" width="5" height="9" fill="#000"/>
<rect x="235" y="91" width="1" height="46" fill="#000"/>
<rect x="233" y="105" width="5" height="27" fill="#000"/>
<rect x="234" y="106" width="3" height="25" fill="#fff"/>
<rect x="243" y="88" width="1" height="18" fill="#000"/>
<rect x="241" y="91" width="5" height="15" fill="#000"/>
<rect x="242" y="92" width="3" height="13" fill="#fff"/>
<rect x="251" y="86" width="1" height="17" fill="#000"/>
<rect x="249" y="92" width="5" height="10" fill="#000"/>
<rect x="259" y="85" width="1" height="23" fill="#000"/>
<rect x="257" y="93" width="5" height="9" fill="#000"/>
<rect x="258" y="94" width="3" height="7" fill="#fff"/>
<rect x="267" y="88" width="1" height="26" fill="#000"/>
<rect x="265" y="93" width="5" height="11" fill="#000"/>
<rect x="275" y="92" width="1" height="14" fill="#000"/>
<rect x="273" y="99" width="5" height="4" fill="#000"/>
<rect x="274" y="100" width="3" height="2" fill="#fff"/>
<rect x="283" y="95" width="1" height="38" fill="#000"/>
<rect x="281" y="99" width="5" height="32" fill="#000"/>
<rect x="291" y="120" width="1" height="18" fill="#000"/>
<rect x="289" y="126" width="5" height="5" fill="#000"/>
<rect x="290" y="127" width="3" height="3" fill="#fff"/>
<rect x="299" y="111" width="1" height="18" fill="#000"/>
<rect x="297" y="121" width="5" height="7" fill="#000"/>
<rect x="298" y="122" width="3" height="5" fill="#fff"/>
<rect x="307" y="113" width="1" height="21" fill="#000"/>
<rect x="305" y="121" width="5" height="6" fill="#000"/>
<rect x="315" y="111" width="1" height="17" fill="#000"/>
<rect x="313" y="116" width="5" height="11" fill="#000"/>
<rect x="314" y="117" width="3" height="9" fill="#fff"/>
<rect x="323" y="105" width="1" height="22" fill="#000"/>
<rect x="321" y="110" width="5" height="6" fill="#000"/>
<rect x="322" y="111" width="3" height="4" fill="#fff"/>
<rect x="331" y="108" width="1" height="17" fill="#000"/>
<rect x="329" y="110" width="5" height="7" fill="#000"/>
<rect x="339" y="100" width="1" height="18" fill="#000"/>
<rect x="337" y="106" width="5" height="10" fill="#000"/>
<rect x="338" y="107" width="3" height="8" fill="#fff"/>
<rect x="347" y="106" width="1" height="9" fill="#000"/>
<rect x="345" y="106" width="5" height="7" fill="#000"/>
<rect x="355" y="109" width="1" height="9" fill="#000"/>
<rect x="353" y="112" width="5" height="2" fill="#000"/>
<rect x="363" y="106" width="1" height="11" fill="#000"/>
<rect x="361" y="110" width="5" height="4" fill="#000"/>
<rect x="362" y="111" width="3" height="2" fill="#fff"/>
<rect x="371" y="105" width="1" height="8" fill="#000"/>
<rect x="369" y="107" width="5" height="4" fill="#000"/>
<rect x="370" y="108" width="3" height="2" fill="#fff"/>
<rect x="379" y="102" width="1" height="17" fill="#000"/>
<rect x="377" y="106" width="5" height="6" fill="#000"/>
<rect x="387" y="105" width="1" height="7" fill="#000"/>
<rect x="385" y="106" width="5" height="6" fill="#000"/>
<rect x="386" y="107" width="3" height="4" fill="#fff"/>
<rect x="395" y="105" width="1" height="10" fill="#000"/>
<rect x="393" y="106" width="5" height="4" fill="#000"/>
<rect x="403" y="110" width="1" height="6" fill="#000"/>
<rect x="401" y="110" width="5" height="2" fill="#000"/>
<rect x="411" y="110" width="1" height="11" fill="#000"/>
<rect x="409" y="110" width="5" height="4" fill="#000"/>
<rect x="419" y="110" width="1" height="5" fill="#000"/>
<rect x="417" y="112" width="5" height="2" fill="#000"/>
<rect x="427" y="105" width="1" height="8" fill="#000"/>
<rect x="425" y="109" width="5" height="4" fill="#000"/>
<rect x="426" y="110" width="3" height="2" fill="#fff"/>
<rect x="435" y="109" width="1" height="17" fill="#000"/>
<rect x="433" y="109" width="5" height="13" fill="#000"/>
<rect x="443" y="115" width="1" height="12" fill="#000"/>
<rect x="441" y="121" width="5" height="5" fill="#000"/>
<rect x="451" y="114" width="1" height="33" fill="#000"/>
<rect x="449" y="125" width="5" height="19" fill="#000"/>
<rect x="459" y="142" width="1" height="47" fill="#000"/>
<rect x="457" y="142" width="5" height="35" fill="#000"/>
<rect x="467" y="170" width="1" height="33" fill="#000"/>
<rect x="465" y="176" width="5" height="20" fill="#000"/>
<rect x="475" y="186" width="1" height="23" fill="#000"/>
<rect x="473" y="191" width="5" height="5" fill="#000"/>
<rect x="474" y="192" width="3" height="3" fill="#fff"/>
<rect x="483" y="184" width="1" height="18" fill="#000"/>
<rect x="481" y="191" width="5" height="1" fill="#000"/>
<rect x="491" y="187" width="1" height="23" fill="#000"/>
<rect x="489" y="191" width="5" height="13" fill="#000"/>
<rect x="499" y="191" width="1" height="20" fill="#000"/>
<rect x="497" y="197" width="5" height="8" fill="#000"/>
<rect x="498" y="198" width="3" height="6" fill="#fff"/>
<rect x="507" y="178" width="1" height="21" fill="#000"/>
<rect x="505" y="192" width="5" height="6" fill="#000"/>
<rect x="506" y="193" width="3" height="4" fill="#fff"/>
<rect x="515" y="172" width="1" height="23" fill="#000"/>
<rect x="513" y="184" width="5" height="9" fill="#000"/>
<rect x="514" y="185" width="3" height="7" fill="#fff"/>
<rect x="523" y="184" width="1" height="46" fill="#000"/>
<rect x="521" y="185" width="5" height="34" fill="#000"/>
<rect x="531" y="211" width="1" height="19" fill="#000"/>
<rect x="529" y="212" width="5" height="7" fill="#000"/>
<rect x="530" y="213" width="3" height="5" fill="#fff"/>
<rect x="539" y="207" width="1" height="15" fill="#000"/>
<rect x="537" y="211" width="5" height="2" fill="#000"/>
<rect x="547" y="202" width="1" height="13" fill="#000"/>
<rect x="545" y="207" width="5" height="5" fill="#000"/>
<rect x="546" y="208" width="3" height="3" fill="#fff"/>
<rect x="555" y="200" width="1" height="12" fill="#000"/>
<rect x="553" y="200" width="5" height="7" fill="#000"/>
<rect x="554" y="201" width="3" height="5" fill="#fff"/>
<rect x="563" y="198" width="1" height="8" fill="#000"/>
<rect x="561" y="199" width="5" height="2" fill="#000"/>
<rect x="571" y="198" width="1" height="7" fill="#000"/>
<rect x="569" y="199" width="5" height="2" fill="#000"/>
<rect x="579" y="195" width="1" height="6" fill="#000"/>
<rect x="577" y="196" width="5" height="4" fill="#000"/>
<rect x="578" y="197" width="3" height="2" fill="#fff"/>
<rect x="587" y="194" width="1" height="19" fill="#000"/>
<rect x="585" y="196" width="5" height="4" fill="#000"/>
<rect x="595" y="192" width="1" height="18" fill="#000"/>
<rect x="593" y="194" width="5" height="6" fill="#000"/>
<rect x="594" y="195" width="3" height="4" fill="#fff"/>
</g>
<path d="M607.5 150.5h4v6h3l-5 5l-5 -5h3z" fill="none" stroke="#800080" stroke-width="1" shape-rendering="crispEdges"/>
</g>
<g clip-path="url(#cr)" shape-rendering="crispEdges">
<polyline points="3.0,264.4 15.0,264.0 18.0,263.0 21.0,263.6 26.0,266.0 34.0,267.6 40.0,266.0 52.0,265.6 56.0,263.0 60.0,262.4 64.0,264.0 68.0,266.4 76.0,266.0 82.0,262.4 88.0,260.0 96.0,258.4 104.0,257.4 115.0,257.0 117.0,259.0 120.0,265.0 124.0,271.0 132.0,277.0 140.0,280.0 146.0,281.3 152.0,278.0 156.0,276.3 162.0,277.5 172.0,277.0 180.0,274.0 188.0,276.3 194.0,274.3 204.0,274.0 212.0,271.4 220.0,271.4 227.0,273.5 234.0,267.6 240.0,264.0 244.0,263.2 252.0,265.0 258.0,264.0 268.0,266.4 274.0,265.4 280.0,269.0 285.0,271.4 290.0,270.0 298.0,269.0 306.0,270.4 314.0,267.6 324.0,266.4 332.0,267.0 338.0,265.6 346.0,266.4 354.0,267.0 364.0,266.4 370.0,265.0 380.0,265.6 388.0,264.0 396.0,265.6 404.0,265.4 412.0,266.4 420.0,265.6 428.0,265.6 434.0,268.6 444.0,271.0 452.0,275.5 458.0,279.0 467.0,283.0 476.0,281.3 486.0,281.0 492.0,282.5 500.0,280.0 510.0,277.3 515.0,275.0 519.0,277.0 523.0,280.0 530.0,279.0 540.0,277.0 550.0,275.0 560.0,273.4 566.0,273.4 570.0,274.3 578.0,272.6 586.0,273.4 594.0,271.4" fill="none" stroke="#1e90ff" stroke-width="1" stroke-linejoin="round" />
<polyline points="3.0,265.0 20.0,266.0 40.0,265.6 60.0,265.0 80.0,265.4 100.0,264.0 112.0,262.6 128.0,262.6 140.0,265.0 152.0,268.0 160.0,268.6 170.0,271.0 190.0,275.0 202.0,277.3 210.0,276.3 230.0,273.5 250.0,271.4 270.0,269.0 290.0,267.6 310.0,267.4 320.0,267.4 350.0,267.6 356.0,268.6 374.0,267.0 400.0,266.0 420.0,266.0 440.0,266.4 452.0,267.0 460.0,269.4 470.0,272.0 490.0,275.5 510.0,279.0 522.0,280.3 540.0,280.3 554.0,278.3 570.0,277.0 586.0,275.3 594.0,275.3" fill="none" stroke="#ff00ff" stroke-width="1" stroke-linejoin="round" />
</g>
<g clip-path="url(#cs)" shape-rendering="crispEdges">
<polyline points="3.0,306.0 10.0,310.0 19.0,313.0 28.0,332.0 36.0,340.3 43.0,340.3 52.0,330.0 59.0,316.0 68.0,325.0 76.0,331.0 83.5,337.0 92.0,328.0 98.0,323.0 106.0,320.0 115.0,317.6 124.0,338.0 132.0,358.0 140.0,368.3 148.0,368.3 154.0,365.5 163.0,363.0 170.0,358.0 180.0,343.0 187.0,330.0 195.5,317.6 203.0,331.0 211.0,324.4 220.0,324.4 230.0,326.4 236.0,325.0 244.0,317.6 252.0,314.0 259.0,311.4 268.0,319.0 275.0,322.0 283.0,344.0 291.0,359.0 298.0,360.3 306.0,356.3 314.0,349.5 322.0,340.3 332.0,327.0 339.4,317.6 347.0,324.0 355.0,327.0 364.0,335.5 371.0,334.0 379.0,335.4 387.5,331.4 395.0,334.0 403.0,332.4 412.0,340.3 420.0,337.5 427.5,332.4 436.0,339.5 444.0,353.0 451.0,367.5 460.0,367.5 466.0,368.5 474.0,366.0 482.0,364.3 499.0,363.0 507.0,356.0 515.5,336.5 539.5,360.0 556.0,346.3 564.0,332.0 572.0,314.0 579.5,304.0 587.0,310.0 594.0,311.4" fill="none" stroke="#20b2aa" stroke-width="1" stroke-linejoin="round" />
<polyline points="3.0,320.0 11.0,311.0 19.0,310.5 22.0,311.5 27.0,316.5 35.0,325.5 43.0,334.7 46.0,337.7 50.0,337.6 54.0,333.5 60.0,328.0 68.0,324.4 74.0,324.4 84.0,331.6 96.0,330.4 106.0,324.0 116.0,319.0 124.0,324.0 132.0,337.0 140.0,354.0 148.0,366.0 156.0,365.5 160.0,366.0 170.0,363.0 180.0,353.0 188.0,342.0 196.0,330.0 203.0,326.0 212.0,325.0 228.0,326.0 236.0,325.0 244.0,323.0 252.0,318.0 260.0,314.0 268.0,314.6 276.0,318.0 283.0,328.0 291.0,342.0 298.0,354.0 304.0,357.0 310.0,358.0 316.0,355.0 324.0,346.0 332.0,336.0 340.0,327.0 347.0,323.6 355.0,323.6 364.0,330.0 372.0,332.4 380.0,335.0 388.0,333.4 396.0,333.4 403.0,332.0 412.0,335.4 420.0,338.3 428.0,336.0 438.0,337.5 446.0,344.0 454.0,355.0 460.0,361.5 463.0,365.0 468.0,368.0 476.0,366.3 490.0,365.0 502.0,362.3 510.0,357.0 520.0,347.5 528.0,344.3 534.0,348.0 540.0,353.0 550.0,354.5 558.0,352.0 568.0,337.0 576.0,322.0 582.0,314.0 588.0,310.4 594.0,308.4" fill="none" stroke="#ff0000" stroke-width="1" stroke-linejoin="round" stroke-dasharray="3 3"/>
</g>
<g clip-path="url(#cd)">
<g shape-rendering="crispEdges">
<rect x="11" y="399" width="1" height="2" fill="#008000"/>
<rect x="19" y="399" width="1" height="2" fill="#008000"/>
<rect x="27" y="399" width="1" height="2" fill="#008000"/>
<rect x="91" y="396" width="1" height="5" fill="#008000"/>
<rect x="99" y="394" width="1" height="7" fill="#008000"/>
<rect x="107" y="394" width="1" height="7" fill="#008000"/>
<rect x="115" y="393" width="1" height="8" fill="#008000"/>
<rect x="123" y="396" width="1" height="5" fill="#008000"/>
<rect x="131" y="400" width="1" height="8" fill="#ff0000"/>
<rect x="139" y="400" width="1" height="18" fill="#ff0000"/>
<rect x="147" y="400" width="1" height="28" fill="#ff0000"/>
<rect x="155" y="400" width="1" height="30" fill="#ff0000"/>
<rect x="163" y="400" width="1" height="31" fill="#ff0000"/>
<rect x="171" y="400" width="1" height="29" fill="#ff0000"/>
<rect x="179" y="400" width="1" height="23" fill="#ff0000"/>
<rect x="187" y="400" width="1" height="19" fill="#ff0000"/>
<rect x="195" y="400" width="1" height="13" fill="#ff0000"/>
<rect x="203" y="400" width="1" height="8" fill="#ff0000"/>
<rect x="211" y="400" width="1" height="2" fill="#ff0000"/>
<rect x="219" y="399" width="1" height="2" fill="#008000"/>
<rect x="227" y="397" width="1" height="4" fill="#008000"/>
<rect x="235" y="392" width="1" height="9" fill="#008000"/>
<rect x="243" y="387" width="1" height="14" fill="#008000"/>
<rect x="251" y="386" width="1" height="15" fill="#008000"/>
<rect x="259" y="384" width="1" height="17" fill="#008000"/>
<rect x="267" y="385" width="1" height="16" fill="#008000"/>
<rect x="275" y="386" width="1" height="15" fill="#008000"/>
<rect x="283" y="392" width="1" height="9" fill="#008000"/>
<rect x="291" y="396" width="1" height="5" fill="#008000"/>
<rect x="299" y="398" width="1" height="3" fill="#008000"/>
<rect x="307" y="400" width="1" height="1" fill="#008000"/>
<rect x="315" y="400" width="1" height="1" fill="#008000"/>
<rect x="323" y="398" width="1" height="3" fill="#008000"/>
<rect x="331" y="398" width="1" height="3" fill="#008000"/>
<rect x="339" y="397" width="1" height="4" fill="#008000"/>
<rect x="347" y="396" width="1" height="5" fill="#008000"/>
<rect x="355" y="396" width="1" height="5" fill="#008000"/>
<rect x="363" y="396" width="1" height="5" fill="#008000"/>
<rect x="371" y="396" width="1" height="5" fill="#008000"/>
<rect x="379" y="396" width="1" height="5" fill="#008000"/>
<rect x="387" y="396" width="1" height="5" fill="#008000"/>
<rect x="395" y="397" width="1" height="4" fill="#008000"/>
<rect x="403" y="398" width="1" height="3" fill="#008000"/>
<rect x="411" y="398" width="1" height="3" fill="#008000"/>
<rect x="419" y="398" width="1" height="3" fill="#008000"/>
<rect x="427" y="399" width="1" height="2" fill="#008000"/>
<rect x="443" y="400" width="1" height="1" fill="#ff0000"/>
<rect x="451" y="400" width="1" height="5" fill="#ff0000"/>
<rect x="459" y="400" width="1" height="12" fill="#ff0000"/>
<rect x="467" y="400" width="1" height="19" fill="#ff0000"/>
<rect x="475" y="400" width="1" height="22" fill="#ff0000"/>
<rect x="483" y="400" width="1" height="23" fill="#ff0000"/>
<rect x="491" y="400" width="1" height="23" fill="#ff0000"/>
<rect x="499" y="400" width="1" height="21" fill="#ff0000"/>
<rect x="507" y="400" width="1" height="17" fill="#ff0000"/>
<rect x="515" y="400" width="1" height="11" fill="#ff0000"/>
<rect x="523" y="400" width="1" height="11" fill="#ff0000"/>
<rect x="531" y="400" width="1" height="9" fill="#ff0000"/>
<rect x="539" y="400" width="1" height="6" fill="#ff0000"/>
<rect x="547" y="400" width="1" height="4" fill="#ff0000"/>
<rect x="563" y="398" width="1" height="3" fill="#008000"/>
<rect x="571" y="396" width="1" height="5" fill="#008000"/>
<rect x="579" y="394" width="1" height="7" fill="#008000"/>
<rect x="587" y="392" width="1" height="9" fill="#008000"/>
<rect x="595" y="391" width="1" height="10" fill="#008000"/>
</g>
<g shape-rendering="crispEdges">
<polyline points="3.0,403.0 20.0,403.0 40.0,402.4 60.0,400.6 80.0,400.4 92.0,399.0 104.0,397.6 116.0,396.0 124.0,395.6 132.0,396.4 140.0,397.6 148.0,399.5 154.0,402.0 160.0,408.0 170.0,417.0 180.0,423.0 190.0,431.0 196.0,436.0 206.0,441.0 214.0,443.5 226.0,443.5 238.0,443.5 246.0,441.0 258.0,437.0 270.0,432.0 278.0,428.3 290.0,425.0 300.0,421.0 303.0,420.0 320.0,417.5 340.0,416.0 360.0,414.0 380.0,411.4 400.0,408.0 420.0,406.0 440.0,405.4 452.0,405.0 456.0,406.4 462.0,408.0 470.0,410.4 478.0,414.3 486.0,418.0 492.0,421.0 500.0,427.0 510.0,433.0 520.0,437.5 530.0,442.3 540.0,447.0 550.0,448.5 560.0,449.3 574.0,449.3 580.0,448.0 590.0,447.0 594.0,445.0" fill="none" stroke="#ff0000" stroke-width="1" stroke-linejoin="round" stroke-dasharray="3 3"/>
<polyline points="3.0,401.0 5.0,401.3 7.0,401.5 9.0,401.6 11.0,401.6 13.0,401.4 15.0,401.1 17.0,400.8 19.0,400.6 21.0,400.6 23.0,400.7 25.0,400.8 27.0,400.9 29.0,401.0 31.0,401.0 33.0,401.1 35.0,401.2 37.0,401.3 39.0,401.4 41.0,401.4 43.0,401.3 45.0,401.1 47.0,400.9 49.0,400.7 51.0,400.5 53.0,400.2 55.0,399.9 57.0,399.6 59.0,399.4 61.0,399.4 63.0,399.5 65.0,399.7 67.0,399.9 69.0,400.1 71.0,400.4 73.0,400.7 75.0,401.0 77.0,401.0 79.0,400.7 81.0,400.2 83.0,399.7 85.0,399.1 87.0,398.3 89.0,397.4 91.0,396.4 93.0,395.6 95.0,394.7 97.0,393.8 99.0,393.0 101.0,392.3 103.0,391.7 105.0,391.2 107.0,390.7 109.0,390.1 111.0,389.5 113.0,389.1 115.0,389.1 117.0,389.4 119.0,390.0 121.0,390.8 123.0,392.2 125.0,394.0 127.0,396.1 129.0,399.0 131.0,402.3 133.0,405.7 135.0,409.6 137.0,413.6 139.0,417.3 141.0,420.6 143.0,423.7 145.0,426.6 147.0,429.0 149.0,430.9 151.0,432.3 153.0,433.5 155.0,434.8 157.0,436.4 159.0,438.2 161.0,439.6 163.0,440.8 165.0,441.9 167.0,442.8 169.0,443.6 171.0,444.4 173.0,445.0 175.0,445.7 177.0,446.2 179.0,446.8 181.0,447.3 183.0,447.8 185.0,448.3 187.0,448.7 189.0,449.0 191.0,449.0 193.0,448.9 195.0,448.7 197.0,448.4 199.0,448.1 201.0,447.8 203.0,447.3 205.0,446.7 207.0,446.0 209.0,445.3 211.0,444.7 213.0,444.2 215.0,443.6 217.0,443.2 219.0,442.9 221.0,442.7 223.0,442.5 225.0,442.4 227.0,442.2 229.0,441.7 231.0,440.5 233.0,438.7 235.0,436.9 237.0,435.2 239.0,433.3 241.0,431.5 243.0,429.8 245.0,428.3 247.0,427.1 249.0,426.0 251.0,424.9 253.0,423.7 255.0,422.4 257.0,421.1 259.0,420.0 261.0,419.1 263.0,418.3 265.0,417.6 267.0,416.9 269.0,416.3 271.0,415.7 273.0,414.9 275.0,414.4 277.0,414.4 279.0,415.3 281.0,416.6 283.0,417.5 285.0,418.1 287.0,418.6 289.0,418.9 291.0,419.1 293.0,419.2 295.0,419.3 297.0,419.3 299.0,419.4 301.0,419.4 303.0,419.5 305.0,419.5 307.0,419.5 309.0,419.1 311.0,418.6 313.0,417.9 315.0,417.1 317.0,416.4 319.0,415.7 321.0,415.3 323.0,414.9 325.0,414.5 327.0,414.1 329.0,413.8 331.0,413.5 333.0,413.1 335.0,412.8 337.0,412.5 339.0,412.2 341.0,411.8 343.0,411.5 345.0,411.1 347.0,410.8 349.0,410.4 351.0,410.1 353.0,409.7 355.0,409.4 357.0,409.1 359.0,408.7 361.0,408.5 363.0,408.2 365.0,407.9 367.0,407.6 369.0,407.4 371.0,407.1 373.0,406.9 375.0,406.6 377.0,406.4 379.0,406.1 381.0,405.9 383.0,405.5 385.0,405.2 387.0,404.9 389.0,404.6 391.0,404.4 393.0,404.4 395.0,404.3 397.0,404.3 399.0,404.3 401.0,404.2 403.0,404.2 405.0,404.2 407.0,404.2 409.0,404.2 411.0,404.2 413.0,404.1 415.0,404.1 417.0,404.1 419.0,404.0 421.0,404.0 423.0,403.8 425.0,403.6 427.0,403.4 429.0,403.4 431.0,403.8 433.0,404.3 435.0,404.8 437.0,405.2 439.0,405.5 441.0,405.8 443.0,406.2 445.0,406.7 447.0,407.4 449.0,408.6 451.0,410.2 453.0,411.9 455.0,413.9 457.0,416.1 459.0,418.3 461.0,420.6 463.0,422.9 465.0,425.1 467.0,427.2 469.0,429.4 471.0,431.4 473.0,433.2 475.0,434.7 477.0,436.0 479.0,437.2 481.0,438.3 483.0,439.4 485.0,440.6 487.0,441.9 489.0,443.4 491.0,444.7 493.0,446.0 495.0,446.9 497.0,447.4 499.0,447.5 501.0,447.5 503.0,447.5 505.0,447.5 507.0,447.5 509.0,447.4 511.0,446.9 513.0,446.4 515.0,446.4 517.0,447.2 519.0,448.4 521.0,449.6 523.0,450.3 525.0,451.0 527.0,451.7 529.0,452.2 531.0,452.5 533.0,452.5 535.0,452.5 537.0,452.5 539.0,452.5 541.0,452.5 543.0,452.4 545.0,452.1 547.0,451.5 549.0,450.8 551.0,450.2 553.0,449.6 555.0,449.0 557.0,448.4 559.0,447.8 561.0,447.2 563.0,446.6 565.0,445.9 567.0,445.3 569.0,444.6 571.0,444.0 573.0,443.3 575.0,442.7 577.0,442.0 579.0,441.4 581.0,440.6 583.0,439.8 585.0,439.0 587.0,438.1 589.0,437.4 591.0,436.7 593.0,436.1 595.0,435.5" fill="none" stroke="#00ffff" stroke-width="1" stroke-linejoin="round" />
</g>
</g>
<g shape-rendering="crispEdges" fill="none" stroke="#000" stroke-width="1">
<rect x="2.5" y="2.5" width="761" height="229"/>
<rect x="2.5" y="233.5" width="761" height="63"/>
<rect x="2.5" y="298.5" width="761" height="78"/>
<rect x="2.5" y="378.5" width="761" height="78"/>
</g>
<g shape-rendering="crispEdges" fill="#000">
<rect x="764" y="5" width="2" height="1"/>
<rect x="764" y="37" width="2" height="1"/>
<rect x="764" y="69" width="2" height="1"/>
<rect x="764" y="101" width="2" height="1"/>
<rect x="764" y="133" width="2" height="1"/>
<rect x="764" y="165" width="2" height="1"/>
<rect x="764" y="197" width="2" height="1"/>
<rect x="764" y="229" width="2" height="1"/>
<rect x="764" y="235" width="1" height="1"/>
<rect x="764" y="295" width="1" height="1"/>
<rect x="764" y="300" width="1" height="1"/>
<rect x="764" y="375" width="1" height="1"/>
<rect x="764" y="380" width="1" height="1"/>
<rect x="764" y="455" width="1" height="1"/>
<rect x="3" y="457" width="1" height="3"/>
<rect x="67" y="457" width="1" height="3"/>
<rect x="131" y="457" width="1" height="3"/>
<rect x="195" y="457" width="1" height="3"/>
<rect x="259" y="457" width="1" height="3"/>
<rect x="323" y="457" width="1" height="3"/>
<rect x="387" y="457" width="1" height="3"/>
<rect x="451" y="457" width="1" height="3"/>
<rect x="515" y="457" width="1" height="3"/>
<rect x="579" y="457" width="1" height="3"/>
</g>
<g font-family="'Liberation Sans', Arial, sans-serif" font-size="9.9px" style="text-rendering:geometricPrecision" stroke-width="0.2">
<rect x="6" y="5" width="202" height="11" fill="#fff"/>
<text x="6.5" y="14" textLength="54" lengthAdjust="spacingAndGlyphs" fill="#000" stroke="#000" xml:space="preserve">EURUSD,H1</text>
<text x="66.8" y="14" textLength="33" lengthAdjust="spacingAndGlyphs" fill="#000" stroke="#000" xml:space="preserve">1.45371</text>
<text x="103.3" y="14" textLength="33" lengthAdjust="spacingAndGlyphs" fill="#000" stroke="#000" xml:space="preserve">1.45458</text>
<text x="139" y="14" textLength="33" lengthAdjust="spacingAndGlyphs" fill="#000" stroke="#000" xml:space="preserve">1.45233</text>
<text x="175.3" y="14" textLength="32.5" lengthAdjust="spacingAndGlyphs" fill="#000" stroke="#000" xml:space="preserve">1.45432</text>
<rect x="8" y="182" width="66" height="11" fill="#fff"/>
<text x="8" y="191" textLength="65.5" lengthAdjust="spacingAndGlyphs" fill="#000" stroke="#000" xml:space="preserve">#18110707 buy</text>
<text x="6.4" y="247" textLength="32.2" lengthAdjust="spacingAndGlyphs" fill="#000" stroke="#000" xml:space="preserve">RSI(14)</text>
<text x="41.4" y="247" textLength="33.5" lengthAdjust="spacingAndGlyphs" fill="#000" stroke="#000" xml:space="preserve">40.0669</text>
<text x="80.9" y="247" textLength="40.6" lengthAdjust="spacingAndGlyphs" fill="#000" stroke="#000" xml:space="preserve">-&gt;MA(10)</text>
<text x="123.7" y="247" textLength="32.7" lengthAdjust="spacingAndGlyphs" fill="#000" stroke="#000" xml:space="preserve">33.7840</text>
<text x="6.4" y="312" textLength="50.5" lengthAdjust="spacingAndGlyphs" fill="#000" stroke="#000" xml:space="preserve">Stoch(5,3,3)</text>
<text x="59.3" y="312" textLength="33.6" lengthAdjust="spacingAndGlyphs" fill="#000" stroke="#000" xml:space="preserve">84.7091</text>
<text x="95.3" y="312" textLength="33.1" lengthAdjust="spacingAndGlyphs" fill="#000" stroke="#000" xml:space="preserve">88.2552</text>
<text x="6.3" y="392" textLength="66.1" lengthAdjust="spacingAndGlyphs" fill="#000" stroke="#000" xml:space="preserve">MACD(12,26,9)</text>
<text x="75.2" y="392" textLength="42.4" lengthAdjust="spacingAndGlyphs" fill="#000" stroke="#000" xml:space="preserve">-0.002274</text>
<text x="120.4" y="392" textLength="40.0" lengthAdjust="spacingAndGlyphs" fill="#000" stroke="#000" xml:space="preserve">-0.002921</text>
<text x="163.3" y="392" textLength="37.1" lengthAdjust="spacingAndGlyphs" fill="#000" stroke="#000" xml:space="preserve">0.000647</text>
<text x="203.8" y="392" textLength="38.7" lengthAdjust="spacingAndGlyphs" fill="#000" stroke="#000" xml:space="preserve">0.000000</text>
<text x="5.2" y="451" textLength="50.8" lengthAdjust="spacingAndGlyphs" fill="#000" stroke="#000" xml:space="preserve">MetaTrader</text>
<text x="59.6" y="451" textLength="4.5" lengthAdjust="spacingAndGlyphs" fill="#000" stroke="#000" xml:space="preserve">-</text>
<text x="66.8" y="451" textLength="26.7" lengthAdjust="spacingAndGlyphs" fill="#000" stroke="#000" xml:space="preserve">Alpari</text>
<text x="95.9" y="451" textLength="14.4" lengthAdjust="spacingAndGlyphs" fill="#000" stroke="#000" xml:space="preserve">UK,</text>
<text x="113.8" y="451" textLength="5.8" lengthAdjust="spacingAndGlyphs" fill="#000" stroke="#000" xml:space="preserve">?</text>
<text x="122.2" y="451" textLength="45.1" lengthAdjust="spacingAndGlyphs" fill="#000" stroke="#000" xml:space="preserve">2001-2009</text>
<text x="169.8" y="451" textLength="53.6" lengthAdjust="spacingAndGlyphs" fill="#000" stroke="#000" xml:space="preserve">MetaQuotes</text>
<text x="225.2" y="451" textLength="40.6" lengthAdjust="spacingAndGlyphs" fill="#000" stroke="#000" xml:space="preserve">Software</text>
<text x="268.3" y="451" textLength="26.3" lengthAdjust="spacingAndGlyphs" fill="#000" stroke="#000" xml:space="preserve">Corp.</text>
<text x="2.6" y="469" textLength="51.2" lengthAdjust="spacingAndGlyphs" fill="#000" stroke="#000" xml:space="preserve">10 Dec 2009</text>
<text x="66.9" y="469" textLength="54.0" lengthAdjust="spacingAndGlyphs" fill="#000" stroke="#000" xml:space="preserve">11 Dec 07:00</text>
<text x="130.9" y="469" textLength="54.0" lengthAdjust="spacingAndGlyphs" fill="#000" stroke="#000" xml:space="preserve">11 Dec 15:00</text>
<text x="194.9" y="469" textLength="54.0" lengthAdjust="spacingAndGlyphs" fill="#000" stroke="#000" xml:space="preserve">14 Dec 00:00</text>
<text x="258.9" y="469" textLength="54.0" lengthAdjust="spacingAndGlyphs" fill="#000" stroke="#000" xml:space="preserve">14 Dec 08:00</text>
<text x="322.9" y="469" textLength="54.0" lengthAdjust="spacingAndGlyphs" fill="#000" stroke="#000" xml:space="preserve">14 Dec 16:00</text>
<text x="386.9" y="469" textLength="54.0" lengthAdjust="spacingAndGlyphs" fill="#000" stroke="#000" xml:space="preserve">15 Dec 00:00</text>
<text x="450.9" y="469" textLength="54.0" lengthAdjust="spacingAndGlyphs" fill="#000" stroke="#000" xml:space="preserve">15 Dec 08:00</text>
<text x="514.9" y="469" textLength="54.0" lengthAdjust="spacingAndGlyphs" fill="#000" stroke="#000" xml:space="preserve">15 Dec 16:00</text>
<text x="578.9" y="469" textLength="54.0" lengthAdjust="spacingAndGlyphs" fill="#000" stroke="#000" xml:space="preserve">16 Dec 00:00</text>
<text x="769.3" y="8" textLength="32" lengthAdjust="spacingAndGlyphs" fill="#000" stroke="#000" xml:space="preserve">1.47880</text>
<text x="769.3" y="40" textLength="32" lengthAdjust="spacingAndGlyphs" fill="#000" stroke="#000" xml:space="preserve">1.47460</text>
<text x="769.3" y="72" textLength="32" lengthAdjust="spacingAndGlyphs" fill="#000" stroke="#000" xml:space="preserve">1.47050</text>
<text x="769.3" y="104" textLength="32" lengthAdjust="spacingAndGlyphs" fill="#000" stroke="#000" xml:space="preserve">1.46640</text>
<text x="769.3" y="136" textLength="32" lengthAdjust="spacingAndGlyphs" fill="#000" stroke="#000" xml:space="preserve">1.46220</text>
<text x="769.3" y="200" textLength="32" lengthAdjust="spacingAndGlyphs" fill="#000" stroke="#000" xml:space="preserve">1.45390</text>
<text x="769.3" y="232" textLength="32" lengthAdjust="spacingAndGlyphs" fill="#000" stroke="#000" xml:space="preserve">1.44980</text>
<rect x="766" y="160" width="35" height="11" fill="#8b4513" shape-rendering="crispEdges"/>
<text x="769.3" y="169" textLength="32" lengthAdjust="spacingAndGlyphs" fill="#fff" stroke="#fff" xml:space="preserve">1.45798</text>
<rect x="766" y="188" width="35" height="11" fill="#000" shape-rendering="crispEdges"/>
<text x="769.3" y="197" textLength="32" lengthAdjust="spacingAndGlyphs" fill="#fff" stroke="#fff" xml:space="preserve">1.45432</text>
<text x="767.2" y="244" textLength="15" lengthAdjust="spacingAndGlyphs" fill="#000" stroke="#000" xml:space="preserve">100</text>
<text x="765.5" y="250" textLength="10" lengthAdjust="spacingAndGlyphs" fill="#000" stroke="#000" xml:space="preserve">80</text>
<text x="765.5" y="268" textLength="10" lengthAdjust="spacingAndGlyphs" fill="#000" stroke="#000" xml:space="preserve">50</text>
<text x="765.5" y="286" textLength="10" lengthAdjust="spacingAndGlyphs" fill="#000" stroke="#000" xml:space="preserve">20</text>
<rect x="766" y="287" width="6" height="6" fill="#fff"/>
<text x="766.5" y="293" fill="#000" stroke="#000" xml:space="preserve">0</text>
<text x="767.2" y="309" textLength="15" lengthAdjust="spacingAndGlyphs" fill="#000" stroke="#000" xml:space="preserve">100</text>
<text x="765.5" y="318" textLength="10" lengthAdjust="spacingAndGlyphs" fill="#000" stroke="#000" xml:space="preserve">80</text>
<text x="765.5" y="340" textLength="10" lengthAdjust="spacingAndGlyphs" fill="#000" stroke="#000" xml:space="preserve">50</text>
<text x="765.5" y="363" textLength="10" lengthAdjust="spacingAndGlyphs" fill="#000" stroke="#000" xml:space="preserve">20</text>
<text x="766.5" y="373" fill="#000" stroke="#000" xml:space="preserve">0</text>
<text x="766.3" y="389" textLength="33" lengthAdjust="spacingAndGlyphs" fill="#000" stroke="#000" xml:space="preserve">0.00133</text>
<text x="766.3" y="403" textLength="18" lengthAdjust="spacingAndGlyphs" fill="#000" stroke="#000" xml:space="preserve">0.00</text>
<text x="766.3" y="453" textLength="36.5" lengthAdjust="spacingAndGlyphs" fill="#000" stroke="#000" xml:space="preserve">-0.00357</text>
</g>
</svg>
</body></html>
